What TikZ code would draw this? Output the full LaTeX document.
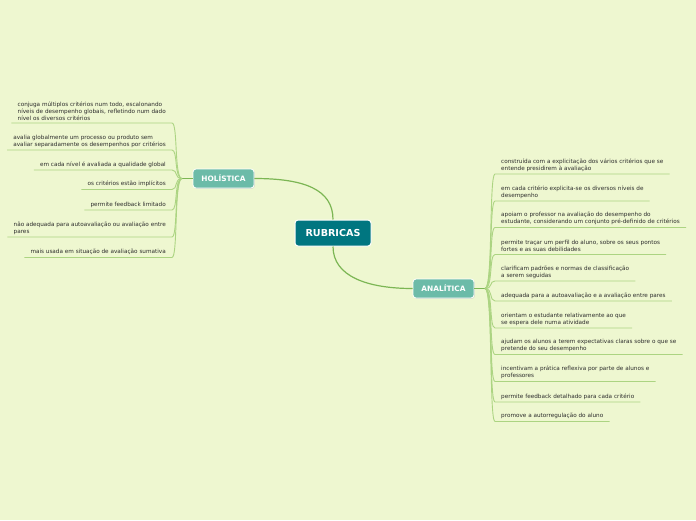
\documentclass[tikz,border=0pt]{standalone}
\usepackage{fontspec}
\setmainfont{DejaVu Sans}
\usetikzlibrary{shadows}
\definecolor{bgcol}{RGB}{238,247,208}
\definecolor{rootcol}{RGB}{0,118,128}
\definecolor{branchcol}{RGB}{108,187,168}
\definecolor{mainline}{RGB}{124,182,84}
\definecolor{leafline}{RGB}{172,212,130}
\definecolor{leaftext}{RGB}{45,45,45}
\tikzstyle{root} = [rectangle, rounded corners=3pt, minimum width=76pt, minimum height=26pt, draw=white, line width=1pt, fill=rootcol, text=white, font=\fontsize{9.6}{10}\selectfont\bfseries]
\tikzstyle{branch} = [rectangle, rounded corners=3pt, minimum width=61pt, minimum height=19pt, draw=white, line width=0.8pt, fill=branchcol, text=white, font=\fontsize{7.4}{8}\selectfont\bfseries, drop shadow={shadow xshift=0.8pt, shadow yshift=-0.8pt, fill=black!25}]
\tikzstyle{leaf} = [inner xsep=6pt, inner ysep=2.5pt, align=left, text=leaftext, font=\fontsize{5.7}{6.9}\selectfont]
\tikzstyle{mainlink} = [draw=mainline, line width=1.2pt]
\tikzstyle{leaflink} = [draw=leafline, line width=0.9pt]
\begin{document}
\begin{tikzpicture}[x=1pt, y=-1pt]
      \fill[bgcol] (0,0) rectangle (696,520);
      \node (rubricas)[root] at (333,233) {RUBRICAS};
      \node (holistica)[branch] at (223.5,178.5) {HOLÍSTICA};
      \node (analitica)[branch] at (443.5,288.5) {ANALÍTICA};
      \coordinate (holj) at (182,178.5);
      \coordinate (anaj) at (485,288.5);
      % holistica leaves
      \node (h1)[leaf, anchor=south east] at (172,123) {conjuga múltiplos critérios num todo, escalonando\\níveis de desempenho globais, refletindo num dado\\nível os diversos critérios};
      \node (h2)[leaf, anchor=south east] at (172,150) {avalia globalmente um processo ou produto sem\\avaliar separadamente os desempenhos por critérios};
      \node (h3)[leaf, anchor=south east] at (172,170) {em cada nível é avaliada a qualidade global};
      \node (h4)[leaf, anchor=south east] at (172,189.5) {os critérios estão implícitos};
      \node (h5)[leaf, anchor=south east] at (172,210) {permite feedback limitado};
      \node (h6)[leaf, anchor=south east] at (172,237) {não adequada para autoavaliação ou avaliação entre\\pares};
      \node (h7)[leaf, anchor=south east] at (172,257.5) {mais usada em situação de avaliação sumativa};
      % analitica leaves
      \node (a1)[leaf, anchor=south west] at (495,174) {construída com a explicitação dos vários critérios que se\\entende presidirem à avaliação};
      \node (a2)[leaf, anchor=south west] at (495,201) {em cada critério explicita-se os diversos níveis de\\desempenho};
      \node (a3)[leaf, anchor=south west] at (495,227.5) {apoiam o professor na avaliação do desempenho do\\estudante, considerando um conjunto pré-definido de critérios};
      \node (a4)[leaf, anchor=south west] at (495,254.5) {permite traçar um perfil do aluno, sobre os seus pontos\\fortes e as suas debilidades};
      \node (a5)[leaf, anchor=south west] at (495,281) {clarificam padrões e normas de classificação\\a serem seguidas};
      \node (a6)[leaf, anchor=south west] at (495,301) {adequada para a autoavaliação e a avaliação entre pares};
      \node (a7)[leaf, anchor=south west] at (495,328) {orientam o estudante relativamente ao que\\se espera dele numa atividade};
      \node (a8)[leaf, anchor=south west] at (495,354.5) {ajudam os alunos a terem expectativas claras sobre o que se\\pretende do seu desempenho};
      \node (a9)[leaf, anchor=south west] at (495,381.5) {incentivam a prática reflexiva por parte de alunos e\\professores};
      \node (a10)[leaf, anchor=south west] at (495,402) {permite feedback detalhado para cada critério};
      \node (a11)[leaf, anchor=south west] at (495,421.5) {promove a autorregulação do aluno};
      % main branches
      \draw [mainlink](holistica.east) .. controls +(50,0) and +(0,-30) .. (rubricas.north);
      \draw [mainlink](rubricas.south) .. controls +(0,30) and +(-45,0) .. (analitica.west);
      \draw [mainlink](holistica.west) -- (holj);
      \draw [mainlink](analitica.east) -- (anaj);
      % leaf connectors
      \draw [leaflink](holj) .. controls +(-8,0) and +(6,0) .. (h1.south east) -- (h1.south west);
      \draw [leaflink](holj) .. controls +(-8,0) and +(6,0) .. (h2.south east) -- (h2.south west);
      \draw [leaflink](holj) .. controls +(-8,0) and +(6,0) .. (h3.south east) -- (h3.south west);
      \draw [leaflink](holj) .. controls +(-8,0) and +(6,0) .. (h4.south east) -- (h4.south west);
      \draw [leaflink](holj) .. controls +(-8,0) and +(6,0) .. (h5.south east) -- (h5.south west);
      \draw [leaflink](holj) .. controls +(-8,0) and +(6,0) .. (h6.south east) -- (h6.south west);
      \draw [leaflink](holj) .. controls +(-8,0) and +(6,0) .. (h7.south east) -- (h7.south west);
      \draw [leaflink](anaj) .. controls +(8,0) and +(-6,0) .. (a1.south west) -- (a1.south east);
      \draw [leaflink](anaj) .. controls +(8,0) and +(-6,0) .. (a2.south west) -- (a2.south east);
      \draw [leaflink](anaj) .. controls +(8,0) and +(-6,0) .. (a3.south west) -- (a3.south east);
      \draw [leaflink](anaj) .. controls +(8,0) and +(-6,0) .. (a4.south west) -- (a4.south east);
      \draw [leaflink](anaj) .. controls +(8,0) and +(-6,0) .. (a5.south west) -- (a5.south east);
      \draw [leaflink](anaj) .. controls +(8,0) and +(-6,0) .. (a6.south west) -- (a6.south east);
      \draw [leaflink](anaj) .. controls +(8,0) and +(-6,0) .. (a7.south west) -- (a7.south east);
      \draw [leaflink](anaj) .. controls +(8,0) and +(-6,0) .. (a8.south west) -- (a8.south east);
      \draw [leaflink](anaj) .. controls +(8,0) and +(-6,0) .. (a9.south west) -- (a9.south east);
      \draw [leaflink](anaj) .. controls +(8,0) and +(-6,0) .. (a10.south west) -- (a10.south east);
      \draw [leaflink](anaj) .. controls +(8,0) and +(-6,0) .. (a11.south west) -- (a11.south east);
    \end{tikzpicture}
\end{document}
